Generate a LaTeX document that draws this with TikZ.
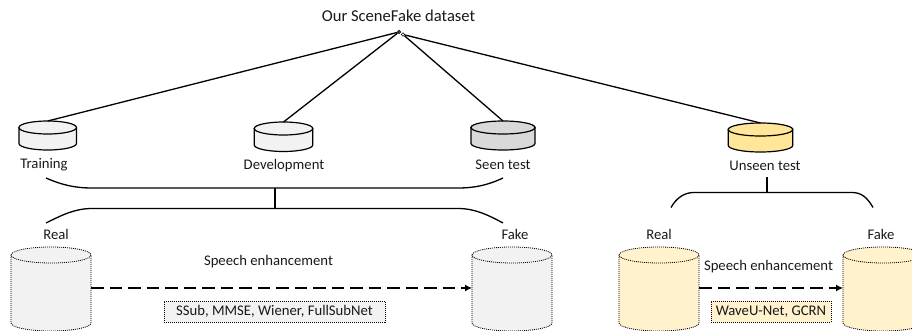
\documentclass[tikz,border=0pt]{standalone}
\usepackage{fontspec}
\setmainfont{Carlito}
\usetikzlibrary{arrows.meta}
\definecolor{yelA}{RGB}{255,230,153}
\definecolor{yelB}{RGB}{255,242,204}
\definecolor{grA}{RGB}{242,242,242}
\definecolor{grB}{RGB}{217,217,217}
\tikzset{
  x=1pt,y=-1pt,
  lbl/.style={inner sep=0pt,font=\fontsize{14.7}{16}\selectfont,text=black!90},
  link/.style={draw=black,line width=1.3pt},
  solidrum/.style={draw=black,line width=1.2pt},
  dotdrum/.style={draw=black,line width=0.8pt,dash pattern=on 1pt off 1pt},
  flow/.style={draw=black,line width=1.3pt,dash pattern=on 12.5pt off 6pt,-{Latex[length=7pt,width=7pt]}},
  method/.style={draw=black,line width=0.8pt,dash pattern=on 1pt off 1pt,inner sep=0pt,minimum height=21pt,font=\fontsize{14.7}{16}\selectfont,text=black!90},
  apex/.style={circle,draw=black,line width=0.6pt,inner sep=0pt,minimum size=3.5pt},
  anchorbox/.style={rectangle,inner sep=0pt,outer sep=0pt},
}
% name, centre x, top y, width, height, end radius, style
\newcommand{\drum}[7]{%
  \pgfmathsetmacro{\rx}{#4/2}%
  \pgfmathsetmacro{\xl}{#2-\rx}%
  \pgfmathsetmacro{\xr}{#2+\rx}%
  \pgfmathsetmacro{\xa}{#2-0.55*\rx}%
  \pgfmathsetmacro{\xb}{#2+0.55*\rx}%
  \pgfmathsetmacro{\yt}{#3+#6}%
  \pgfmathsetmacro{\yb}{#3+#5-#6}%
  \pgfmathsetmacro{\ybb}{#3+#5}%
  \pgfmathsetmacro{\yc}{\yb+0.55*#6}%
  \pgfmathsetmacro{\ym}{#3+#5/2}%
  \draw[#7] (\xl,\yt) -- (\xl,\yb) .. controls (\xl,\yc) and (\xa,\ybb) .. (#2,\ybb)
     .. controls (\xb,\ybb) and (\xr,\yc) .. (\xr,\yb) -- (\xr,\yt) -- cycle;
  \draw[#7] (#2,\yt) ellipse [x radius=\rx, y radius=#6];
  \node[anchorbox,minimum width=#4pt,minimum height=#5pt] (#1) at (#2,\ym) {};
}
\begin{document}
\begin{tikzpicture}
\useasboundingbox (0,0) rectangle (912,331);
\clip (0,0) rectangle (912,331);
\node[lbl,font=\fontsize{16.6}{18}\selectfont] (title) at (398.5,15.5) {Our SceneFake dataset};
\node[apex,fill=black!70] (a1) at (399,32) {};
\node[apex,fill=white] (a2) at (403,34.5) {};

\drum{train}{47.7}{121}{57.5}{29}{6.5}{solidrum,fill=grA}
\drum{dev}{283.5}{122}{58.5}{29.5}{6.5}{solidrum,fill=grA}
\drum{seen}{503}{121}{64}{29}{6.5}{solidrum,fill=grB}
\drum{unseen}{760.5}{123}{64.5}{29}{6.5}{solidrum,fill=yelA}

\draw[link] (a1) -- (train.north);
\draw[link] (a1) -- (dev.north);
\draw[link] (a2) -- (seen.north);
\draw[link] (a2) -- (unseen.north);

\node[lbl] (ltrain) at (44,165) {Training};
\node[lbl] (ldev) at (284,166) {Development};
\node[lbl] (lseen) at (503,165) {Seen test};
\node[lbl] (lunseen) at (765,166) {Unseen test};

% left braces
\coordinate (ua) at (46,178); \coordinate (ub) at (503,178);
\coordinate (la) at (46,223); \coordinate (lb) at (503,223);
\coordinate (um) at (275,188); \coordinate (lm) at (275,208.5);
\draw[link] (ua) .. controls (62,185) and (75,188) .. (92,188) -- (um) -- (458,188) .. controls (475,188) and (488,185) .. (ub);
\draw[link] (la) .. controls (62,215) and (75,208.5) .. (92,208.5) -- (lm) -- (458,208.5) .. controls (475,208.5) and (488,215) .. (lb);
\draw[link] (um) -- (lm);

% right brace
\coordinate (ra) at (671,207.5); \coordinate (rb) at (873,207.5);
\coordinate (rm) at (767,192.5); \coordinate (rt) at (767,177);
\draw[link] (ra) .. controls (677,197) and (685,192.5) .. (694,192.5) -- (rm) -- (852,192.5) .. controls (861,192.5) and (867,197) .. (rb);
\draw[link] (rt) -- (rm);

% big cylinders
\drum{real1}{51}{247}{80}{84}{8}{dotdrum,fill=grA}
\drum{fake1}{512}{247}{80}{84}{8}{dotdrum,fill=grA}
\drum{real2}{659}{247}{80}{84}{8}{dotdrum,fill=yelB}
\drum{fake2}{883}{247}{80}{84}{8}{dotdrum,fill=yelB}

\node[lbl] (lreal1) at (56,234) {Real};
\node[lbl] (lfake1) at (515,234) {Fake};
\node[lbl] (lreal2) at (659,234) {Real};
\node[lbl] (lfake2) at (881,234) {Fake};

\node[lbl] (se1) at (268.5,262) {Speech enhancement};
\node[lbl] (se2) at (768.5,267) {Speech enhancement};

\draw[flow] (real1.east |- 0,288) -- (fake1.west |- 0,288);
\draw[flow] (real2.east |- 0,288) -- (fake2.west |- 0,288);

\node[method,fill=grA,minimum width=221pt] (m1) at (274.5,311.5) {SSub, MMSE, Wiener, FullSubNet};
\node[method,fill=yelB,minimum width=120pt] (m2) at (771,311.5) {WaveU-Net, GCRN};
\end{tikzpicture}
\end{document}
